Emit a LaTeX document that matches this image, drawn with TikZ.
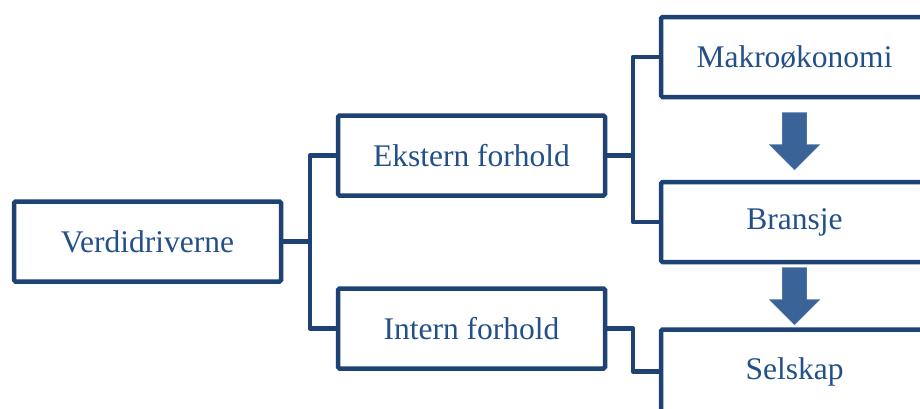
\documentclass[tikz,border=0pt]{standalone}
\usepackage{fontspec}
\setmainfont{Liberation Serif}
\usetikzlibrary{calc}

\definecolor{boxline}{HTML}{1F4274}
\definecolor{boxtext}{HTML}{24508A}
\definecolor{arrowfill}{HTML}{3A6398}

\begin{document}
\begin{tikzpicture}[x=1pt, y=-1pt,
        box/.style={draw=boxline, line width=4.5pt, rounded corners=1.5pt, fill=white,
            minimum width=267pt, minimum height=80pt, text=boxtext,
            font=\fontsize{31.5}{37}\selectfont},
        link/.style={draw=boxline, line width=4.5pt, line join=round},
        blockarrow/.style={fill=arrowfill, draw=arrowfill!90!white, line width=0.6pt}]
        \useasboundingbox (0,0) rectangle (920,408);
        \clip (0,0) rectangle (920,408);

        % Level 1
        \node[box] (verd) at (147.5,241.5) {Verdidriverne};

        % Level 2
        \node[box] (ekst) at (471.5,155.5) {Ekstern forhold};
        \node[box] (intern) at (471.5,328.5) {Intern forhold};

        % Level 3 (runs past the edge)
        \node[box] (makro) at (794.5,57) {Makroøkonomi};
        \node[box] (bransje) at (794.5,222) {Bransje};
        \node[box, minimum height=84pt] (selskap) at (794.5,371.5) {Selskap};

        % Elbow links
        \coordinate (j1) at (310,241.5);
        \draw[link] (verd.east) -- (j1) |- (ekst.west);
        \draw[link] (j1) |- (intern.west);

        \coordinate (j2) at (633,155.5);
        \draw[link] (ekst.east) -- (j2) |- (makro.west);
        \draw[link] (j2) |- (bransje.west);

        \coordinate (j3) at (633,328.5);
        \draw[link] (intern.east) -- (j3) |- (selskap.west);

        % Block arrows
        \coordinate (tip1) at ($(bransje.north)+(0,-10)$);
        \filldraw[blockarrow] (tip1) -- ++(-25,-25) -- ++(13,0) -- ++(0,-32)
            -- ++(24,0) -- ++(0,32) -- ++(13,0) -- cycle;

        \coordinate (tip2) at ($(selskap.north)+(0,-2.5)$);
        \filldraw[blockarrow] (tip2) -- ++(-25,-25) -- ++(13,0) -- ++(0,-32)
            -- ++(24,0) -- ++(0,32) -- ++(13,0) -- cycle;
    \end{tikzpicture}
\end{document}
